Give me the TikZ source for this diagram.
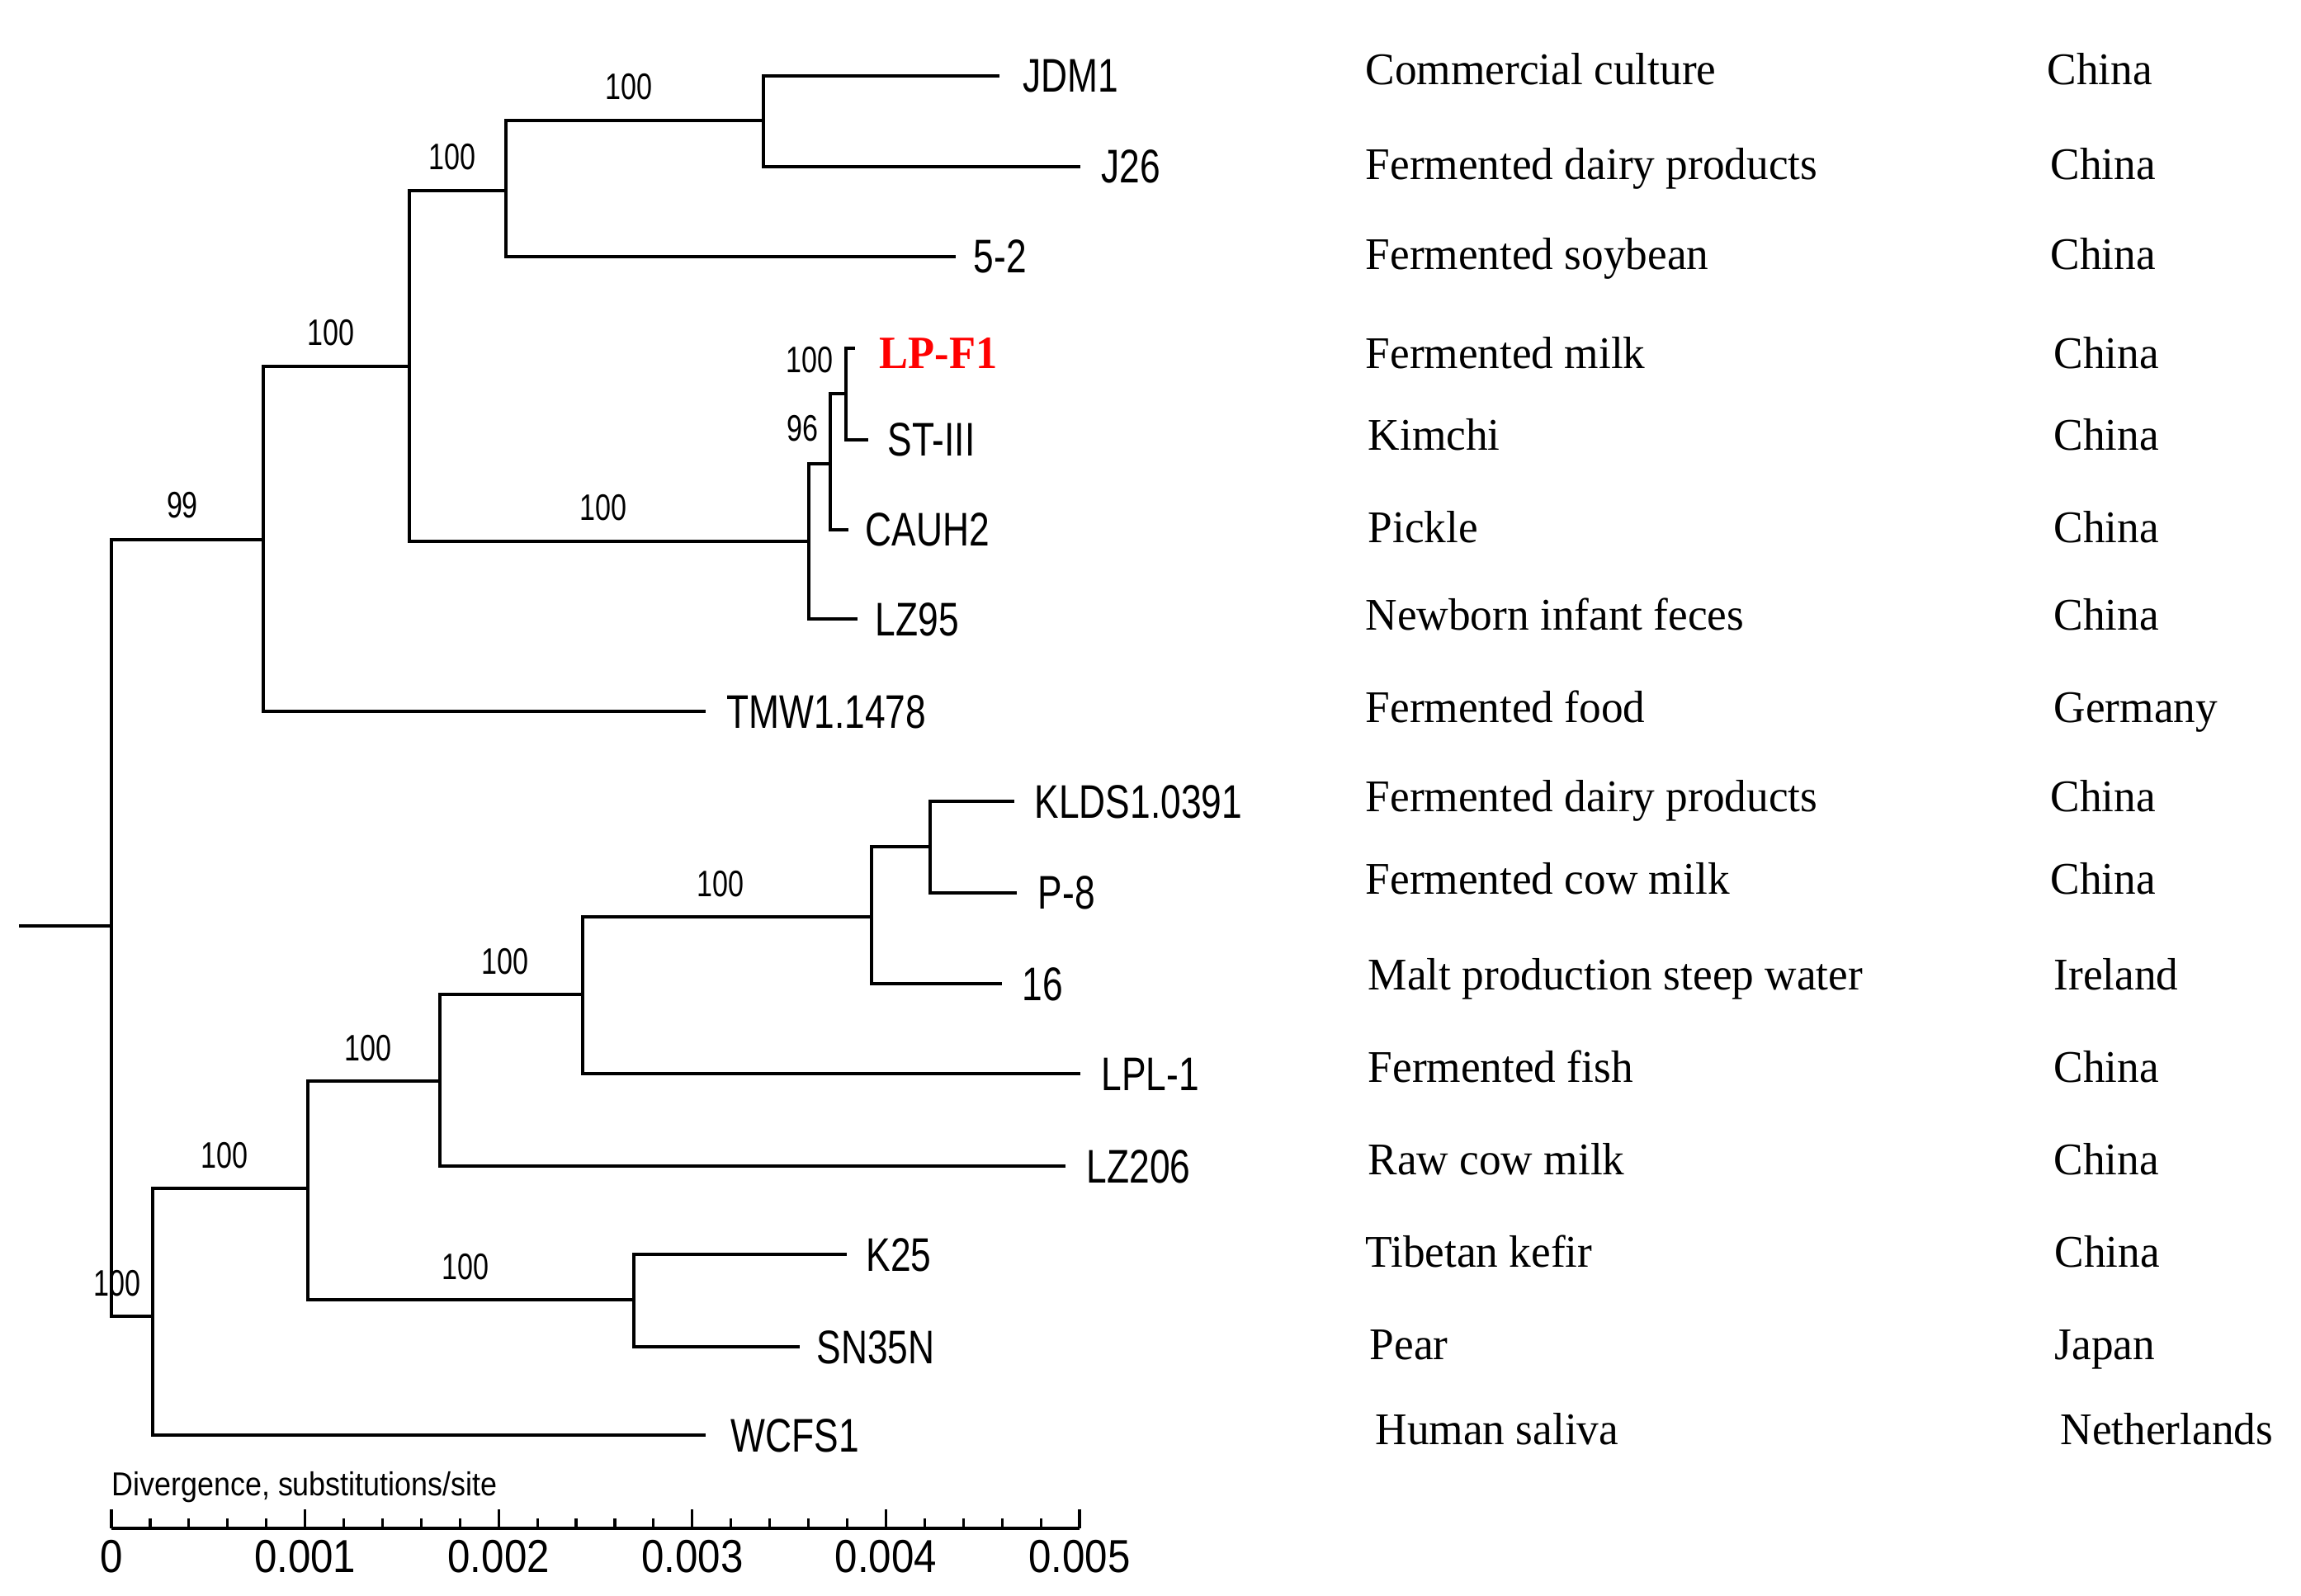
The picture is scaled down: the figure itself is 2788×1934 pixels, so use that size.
\documentclass[tikz,border=0pt]{standalone}
\usepackage{fontspec}
\setmainfont{Liberation Serif}
\newfontfamily\arialf{Liberation Sans}
\usepackage{graphicx}
\newcommand\tiptxt[1]{\scalebox{1}[1.29]{\arialf\fontsize{12.6pt}{14pt}\selectfont #1}}
\newcommand\bstxt[1]{\scalebox{1}[1.31]{\arialf\fontsize{9.7pt}{11pt}\selectfont #1}}
\newcommand\axtxt[1]{\scalebox{1}[1.14]{\arialf\fontsize{14pt}{16pt}\selectfont #1}}
\newcommand\divtxt[1]{\scalebox{1}[1.12]{\arialf\fontsize{10.2pt}{12pt}\selectfont #1}}
\newcommand\srctxt[1]{\scalebox{1}[1.03]{#1}}
\tikzset{
  tree/.style={line width=0.9pt, black, line cap=rect},
  lbl/.style={inner sep=0pt, anchor=base west},
  bs/.style={inner sep=0pt, anchor=base},
  src/.style={inner sep=0pt, anchor=base west, font=\fontsize{15.15pt}{17pt}\selectfont},
  axlbl/.style={inner sep=0pt, anchor=base},
}
\begin{document}
\begin{tikzpicture}[x=0.01cm, y=-0.01cm]
\useasboundingbox (0,0) rectangle (2788,1934);
% ---------- internal nodes ----------
\coordinate (r0) at (25,1122);
\coordinate (R) at (135,1122);
\coordinate (A) at (319,654);
\coordinate (B) at (496,444);
\coordinate (C) at (613,231);
\coordinate (D) at (925,146);
\coordinate (E) at (980,656);
\coordinate (F) at (1006,562);
\coordinate (G) at (1025,477);
\coordinate (I) at (185,1595);
\coordinate (J) at (373,1440);
\coordinate (K) at (533,1310);
\coordinate (M) at (706,1205);
\coordinate (N) at (1056,1111);
\coordinate (O) at (1127,1026);
\coordinate (L) at (768,1575);
% ---------- tips ----------
\coordinate (jdm1) at (1209,92);
\coordinate (j26) at (1307,202);
\coordinate (f52) at (1156,311);
\coordinate (lpf1) at (1034,422);
\coordinate (st3) at (1050,533);
\coordinate (cauh2) at (1026,642);
\coordinate (lz95) at (1037,750);
\coordinate (tmw) at (853,862);
\coordinate (klds) at (1227,971);
\coordinate (p8) at (1230,1082);
\coordinate (s16) at (1212,1192);
\coordinate (lpl1) at (1307,1301);
\coordinate (lz206) at (1289,1413);
\coordinate (k25) at (1024,1520);
\coordinate (sn35n) at (967,1632);
\coordinate (wcfs1) at (853,1739);
% ---------- branches ----------
\draw[tree] (r0) -- (R);
\draw[tree] (R) |- (A);
\draw[tree] (R) |- (I);
\draw[tree] (A) |- (B);
\draw[tree] (A) |- (tmw);
\draw[tree] (B) |- (C);
\draw[tree] (B) |- (E);
\draw[tree] (C) |- (D);
\draw[tree] (C) |- (f52);
\draw[tree] (D) |- (jdm1);
\draw[tree] (D) |- (j26);
\draw[tree] (E) |- (F);
\draw[tree] (E) |- (lz95);
\draw[tree] (F) |- (G);
\draw[tree] (F) |- (cauh2);
\draw[tree] (G) |- (lpf1);
\draw[tree] (G) |- (st3);
\draw[tree] (I) |- (J);
\draw[tree] (I) |- (wcfs1);
\draw[tree] (J) |- (K);
\draw[tree] (J) |- (L);
\draw[tree] (K) |- (M);
\draw[tree] (K) |- (lz206);
\draw[tree] (M) |- (N);
\draw[tree] (M) |- (lpl1);
\draw[tree] (N) |- (O);
\draw[tree] (N) |- (s16);
\draw[tree] (O) |- (klds);
\draw[tree] (O) |- (p8);
\draw[tree] (L) |- (k25);
\draw[tree] (L) |- (sn35n);
% ---------- bootstrap values ----------
\node[bs] (b99) at (221,628) {\bstxt{99}};
\node[bs] (bB) at (401,419) {\bstxt{100}};
\node[bs] (bC) at (548,206) {\bstxt{100}};
\node[bs] (bD) at (762,121) {\bstxt{100}};
\node[bs] (bE) at (731,631) {\bstxt{100}};
\node[bs] (bG) at (981,452) {\bstxt{100}};
\node[bs] (bF) at (972,535) {\bstxt{96}};
\node[bs] (bI) at (142,1570) {\bstxt{100}};
\node[bs] (bJ) at (272,1415) {\bstxt{100}};
\node[bs] (bK) at (446,1285) {\bstxt{100}};
\node[bs] (bM) at (612,1180) {\bstxt{100}};
\node[bs] (bN) at (873,1086) {\bstxt{100}};
\node[bs] (bL) at (564,1550) {\bstxt{100}};
% ---------- tip labels ----------
\node[lbl] (tjdm1) at (1239,112) {\tiptxt{JDM1}};
\node[lbl] (tj26) at (1334,222) {\tiptxt{J26}};
\node[lbl] (tf52) at (1179,331) {\tiptxt{5-2}};
\node[lbl, text=red] (tlpf1) at (1065,447) {\scalebox{1}[1.07]{\fontsize{14.9pt}{17pt}\selectfont\bfseries LP-F1}};
\node[lbl] (tst3) at (1075,553) {\tiptxt{ST-III}};
\node[lbl] (tcauh2) at (1048,662) {\tiptxt{CAUH2}};
\node[lbl] (tlz95) at (1060,770) {\tiptxt{LZ95}};
\node[lbl] (ttmw) at (880,882) {\tiptxt{TMW1.1478}};
\node[lbl] (tklds) at (1253,991) {\tiptxt{KLDS1.0391}};
\node[lbl] (tp8) at (1257,1101) {\tiptxt{P-8}};
\node[lbl] (ts16) at (1238,1212) {\tiptxt{16}};
\node[lbl] (tlpl1) at (1334,1321) {\tiptxt{LPL-1}};
\node[lbl] (tlz206) at (1316,1433) {\tiptxt{LZ206}};
\node[lbl] (tk25) at (1049,1540) {\tiptxt{K25}};
\node[lbl] (tsn35n) at (989,1652) {\tiptxt{SN35N}};
\node[lbl] (twcfs1) at (885,1759) {\tiptxt{WCFS1}};
% ---------- source column ----------
\node[src] (s1) at (1654,103) {\srctxt{Commercial culture}};
\node[src] (s2) at (1654,218) {\srctxt{Fermented dairy products}};
\node[src] (s3) at (1654,327) {\srctxt{Fermented soybean}};
\node[src] (s4) at (1654,447) {\srctxt{Fermented milk}};
\node[src] (s5) at (1657,546) {\srctxt{Kimchi}};
\node[src] (s6) at (1657,658) {\srctxt{Pickle}};
\node[src] (s7) at (1654,763) {\srctxt{Newborn infant feces}};
\node[src] (s8) at (1654,875) {\srctxt{Fermented food}};
\node[src] (s9) at (1654,983) {\srctxt{Fermented dairy products}};
\node[src] (s10) at (1654,1083) {\srctxt{Fermented cow milk}};
\node[src] (s11) at (1657,1199) {\srctxt{Malt production steep water}};
\node[src] (s12) at (1657,1311) {\srctxt{Fermented fish}};
\node[src] (s13) at (1657,1423) {\srctxt{Raw cow milk}};
\node[src] (s14) at (1654,1535) {\srctxt{Tibetan kefir}};
\node[src] (s15) at (1659,1647) {\srctxt{Pear}};
\node[src] (s16) at (1666,1750) {\srctxt{Human saliva}};
% ---------- country column ----------
\node[src] (c1) at (2480,103) {\srctxt{China}};
\node[src] (c2) at (2484,218) {\srctxt{China}};
\node[src] (c3) at (2484,327) {\srctxt{China}};
\node[src] (c4) at (2488,447) {\srctxt{China}};
\node[src] (c5) at (2488,546) {\srctxt{China}};
\node[src] (c6) at (2488,658) {\srctxt{China}};
\node[src] (c7) at (2488,763) {\srctxt{China}};
\node[src] (c8) at (2488,875) {\srctxt{Germany}};
\node[src] (c9) at (2484,983) {\srctxt{China}};
\node[src] (c10) at (2484,1083) {\srctxt{China}};
\node[src] (c11) at (2488,1199) {\srctxt{Ireland}};
\node[src] (c12) at (2488,1311) {\srctxt{China}};
\node[src] (c13) at (2488,1423) {\srctxt{China}};
\node[src] (c14) at (2489,1535) {\srctxt{China}};
\node[src] (c15) at (2489,1647) {\srctxt{Japan}};
\node[src] (c16) at (2496,1750) {\srctxt{Netherlands}};
% ---------- scale bar ----------
\node[lbl] (divlbl) at (135,1812) {\divtxt{Divergence, substitutions/site}};
\coordinate (ax0) at (135,1852);
\coordinate (ax1) at (1308,1852);
\draw[line width=1.1pt, black] (ax0) -- (ax1);
\foreach \i in {0,...,25} {
  \pgfmathsetmacro\xx{135+\i*46.92}
  \pgfmathtruncatemacro\ism{mod(\i,5)}
  \ifnum\ism=0
    \draw[line width=0.9pt] (\xx,1852) -- (\xx,1829);
  \else
    \draw[line width=0.9pt] (\xx,1852) -- (\xx,1840);
  \fi
}
\foreach \v [count=\k from 0] in {0,0.001,0.002,0.003,0.004,0.005} {
  \node[axlbl] (ax\k) at (135+\k*234.6,1905) {\axtxt{\v}};
}
\end{tikzpicture}
\end{document}
